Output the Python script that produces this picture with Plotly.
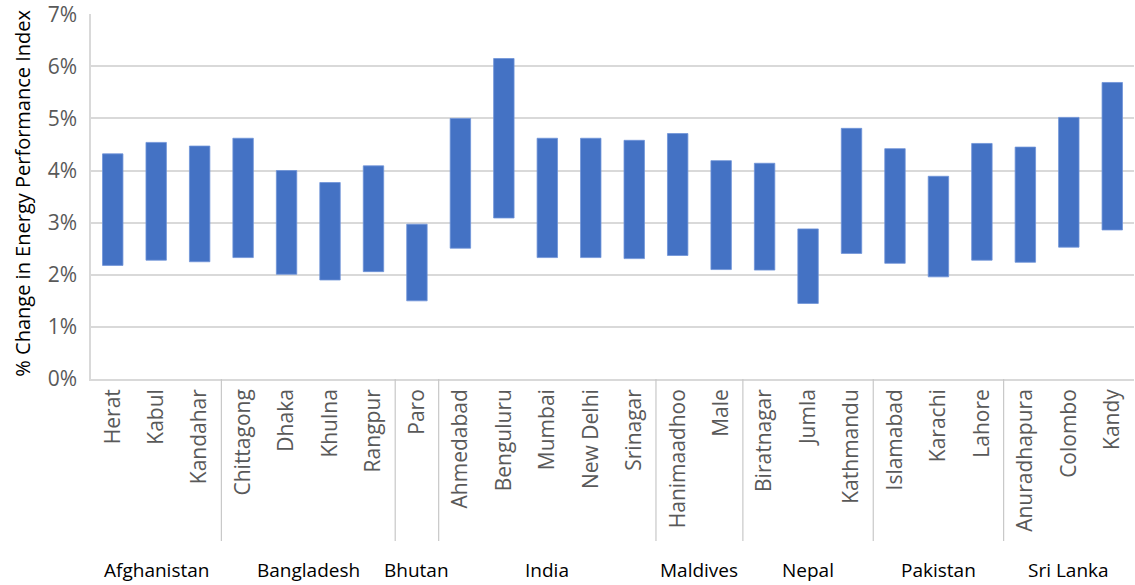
import plotly.graph_objects as go

cities = ["Herat", "Kabul", "Kandahar", "Chittagong", "Dhaka", "Khulna", "Rangpur", "Paro",
          "Ahmedabad", "Benguluru", "Mumbai", "New Delhi", "Srinagar", "Hanimaadhoo", "Male",
          "Biratnagar", "Jumla", "Kathmandu", "Islamabad", "Karachi", "Lahore",
          "Anuradhapura", "Colombo", "Kandy"]
countries = ["Afghanistan"] * 3 + ["Bangladesh"] * 4 + ["Bhutan"] + ["India"] * 5 + \
            ["Maldives"] * 2 + ["Nepal"] * 3 + ["Pakistan"] * 3 + ["Sri Lanka"] * 3
low = [2.18, 2.28, 2.25, 2.33, 2.01, 1.90, 2.06, 1.50,
       2.51, 3.09, 2.33, 2.33, 2.31, 2.37, 2.10,
       2.09, 1.45, 2.41, 2.22, 1.96, 2.28,
       2.24, 2.53, 2.86]
high = [4.32, 4.54, 4.47, 4.62, 4.00, 3.77, 4.09, 2.97,
        5.00, 6.15, 4.62, 4.62, 4.58, 4.71, 4.19,
        4.14, 2.88, 4.81, 4.42, 3.89, 4.52,
        4.45, 5.02, 5.69]
y_ticks = [0, 1, 2, 3, 4, 5, 6, 7]

idx = list(range(len(cities)))
span = [h - l for h, l in zip(high, low)]

fig = go.Figure()
fig.add_trace(go.Bar(
    x=idx, y=span, base=low, width=0.47,
    marker=dict(color="#4472C4", line=dict(color="#6f93d8", width=0.8)),
    hoverinfo="skip", showlegend=False,
))

# group separators and country labels
shapes = []
annotations = []
groups = []
for i, c in enumerate(countries):
    if not groups or groups[-1][0] != c:
        groups.append([c, i, i])
    else:
        groups[-1][2] = i
plot_h = 365.0
sep_bottom = -162.0 / plot_h
for g in groups[:-1]:
    xb = g[2] + 0.5
    shapes.append(dict(type="line", xref="x", yref="paper", x0=xb, x1=xb,
                       y0=0, y1=sep_bottom, line=dict(color="#c8c8c8", width=1.2)))
for g in groups:
    annotations.append(dict(xref="x", yref="paper", x=(g[1] + g[2]) / 2.0, y=-191.0 / plot_h,
                            text=g[0], showarrow=False, xanchor="center", yanchor="middle",
                            font=dict(family="Open Sans", size=19, color="#000000")))
annotations.append(dict(xref="paper", yref="paper", x=-68.0 / 1044, y=0.508,
                        text="% Change in Energy Performance Index", textangle=-90,
                        showarrow=False, xanchor="center", yanchor="middle",
                        font=dict(family="Open Sans", size=20, color="#000000")))

fig.update_layout(
    width=1135, height=585,
    margin=dict(l=91, r=1, t=14, b=206),
    paper_bgcolor="white", plot_bgcolor="white",
    shapes=shapes, annotations=annotations,
    xaxis=dict(range=[-0.5, 23.5], tickmode="array", tickvals=idx, ticktext=cities,
               tickangle=-90, showgrid=False, zeroline=False, showline=True,
               linecolor="#d9d9d9", linewidth=1.5, ticks="",
               tickfont=dict(family="Open Sans", size=21, color="#595959")),
    yaxis=dict(range=[0, 7.004], tickmode="array", tickvals=y_ticks,
               ticktext=[f"{v}%" for v in y_ticks],
               showgrid=True, gridcolor="#d9d9d9", gridwidth=1.5, zeroline=False,
               showline=True, linecolor="#d9d9d9", linewidth=1.5, ticks="",
               ticklabelstandoff=8, ticklabeloverflow="allow",
               tickfont=dict(family="Open Sans", size=21, color="#595959")),
    bargap=0.5,
)

fig.write_html("out.html")
